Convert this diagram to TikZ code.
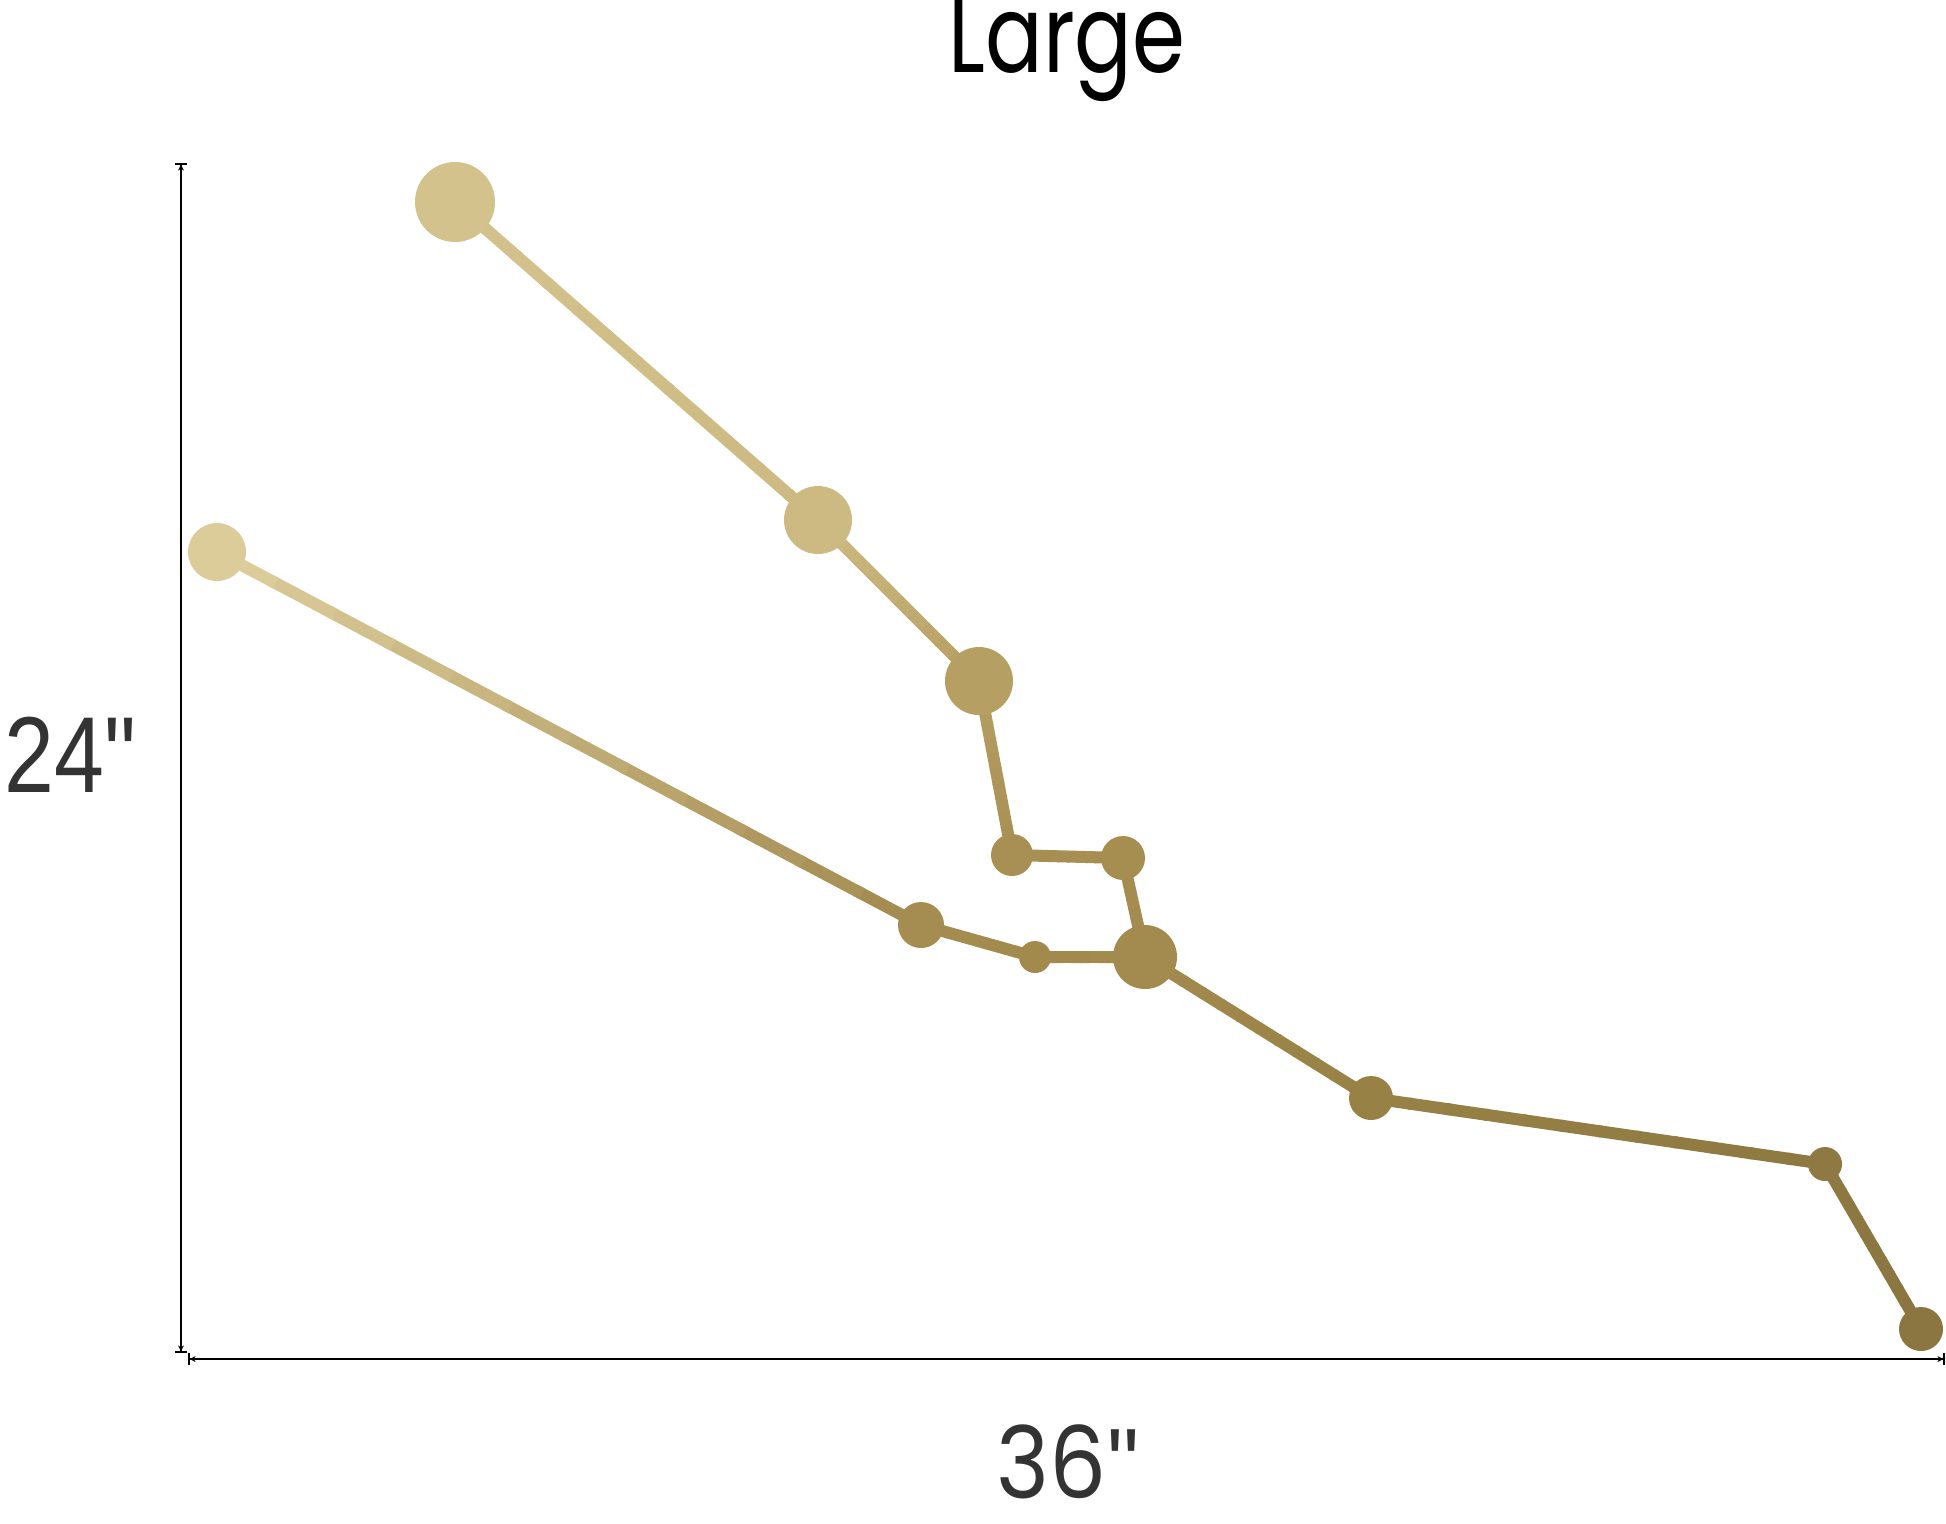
\documentclass[tikz,border=0pt]{standalone}
\usepackage{fontspec}
\setmainfont{Poppins}
\newfontfamily\dimfont{Liberation Sans}
\usetikzlibrary{arrows.meta,calc}
\pgfdeclarelayer{bg}
\pgfsetlayers{bg,main}
\definecolor{cA}{HTML}{D3C28C}
\definecolor{cB}{HTML}{CDBA82}
\definecolor{cC}{HTML}{B69F62}
\definecolor{cD}{HTML}{A88F54}
\definecolor{cE}{HTML}{A68D50}
\definecolor{cF}{HTML}{A38A4E}
\definecolor{cG}{HTML}{A28A4C}
\definecolor{cH}{HTML}{A58D52}
\definecolor{cI}{HTML}{DCCC9A}
\definecolor{cJ}{HTML}{978145}
\definecolor{cK}{HTML}{8E7942}
\definecolor{cL}{HTML}{8B7540}
\definecolor{dimtext}{HTML}{333333}
\tikzset{
  star/.style={circle,inner sep=0pt,draw=none},
  dimline/.style={line width=0.8pt,black},
  titletext/.style={font=\fontsize{54}{54}\selectfont,text=black,inner sep=0pt,anchor=base,text depth=0pt,text height=34pt,xscale=0.79},
  dimlabel/.style={text=dimtext,inner sep=0pt,text depth=0pt,text height=35pt}
}
\newcommand{\gedge}[4]{%
  \foreach \i in {0,...,11}{%
    \pgfmathsetmacro{\pa}{\i/12}%
    \pgfmathsetmacro{\pb}{min(1,(\i+1.1)/12)}%
    \pgfmathsetmacro{\pc}{100-\i*100/11}%
    \draw[line width=6pt,color=#3!\pc!#4] ($(#1.center)!\pa!(#2.center)$) -- ($(#1.center)!\pb!(#2.center)$);
  }%
}
\begin{document}
\begin{tikzpicture}[x=0.5pt,y=-0.5pt]
\useasboundingbox (0,0) rectangle (1946,1523);
% stars
\node[star,fill=cA,minimum size=40pt] (A) at (455,202) {};
\node[star,fill=cB,minimum size=34pt] (B) at (818,520) {};
\node[star,fill=cC,minimum size=34pt] (C) at (979,681) {};
\node[star,fill=cD,minimum size=21pt] (D) at (1012,855) {};
\node[star,fill=cE,minimum size=22pt] (E) at (1123,858) {};
\node[star,fill=cF,minimum size=32pt] (F) at (1145,957) {};
\node[star,fill=cG,minimum size=16pt] (G) at (1035,957) {};
\node[star,fill=cH,minimum size=23pt] (H) at (921,925) {};
\node[star,fill=cI,minimum size=29pt] (I) at (217,552) {};
\node[star,fill=cJ,minimum size=22pt] (J) at (1371,1098) {};
\node[star,fill=cK,minimum size=17pt] (K) at (1825,1164) {};
\node[star,fill=cL,minimum size=22pt] (L) at (1921,1329) {};
\begin{pgfonlayer}{bg}
\gedge{A}{B}{cA}{cB}
\gedge{B}{C}{cB}{cC}
\gedge{C}{D}{cC}{cD}
\gedge{D}{E}{cD}{cE}
\gedge{E}{F}{cE}{cF}
\gedge{F}{G}{cF}{cG}
\gedge{G}{H}{cG}{cH}
\gedge{H}{I}{cH}{cI}
\gedge{F}{J}{cF}{cJ}
\gedge{J}{K}{cJ}{cK}
\gedge{K}{L}{cK}{cL}
\end{pgfonlayer}
% dimension lines
\coordinate (vt) at (181,163);
\coordinate (vb) at (181,1353);
\coordinate (hl) at (188,1359);
\coordinate (hr) at (1945,1359);
\draw[dimline,{Bar[width=6pt]Stealth[length=3pt,width=3pt]}-{Stealth[length=3pt,width=3pt]Bar[width=6pt]}] (vt) -- (vb);
\draw[dimline,{Bar[width=6pt]Stealth[length=3pt,width=3pt]}-{Stealth[length=3pt,width=3pt]Bar[width=6pt]}] (hl) -- (hr);
% labels
\node[titletext] (title) at (1067,72) {Large};
\node[dimlabel,anchor=base west,xscale=0.83,font=\dimfont\fontsize{54}{54}\selectfont] (h) at (4,792) {24"};
\node[dimlabel,anchor=base,xscale=0.9,font=\fontsize{50}{50}\selectfont] (w) at (1068,1498) {36{\dimfont"}};
\end{tikzpicture}
\end{document}
